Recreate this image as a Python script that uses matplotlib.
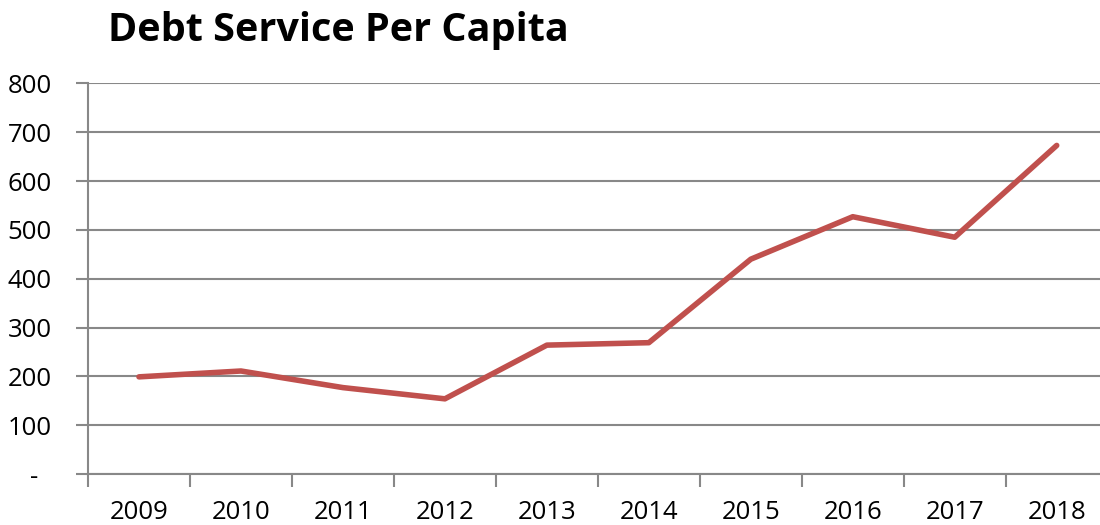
import numpy as np
import matplotlib.pyplot as plt

years = ["2009", "2010", "2011", "2012", "2013", "2014", "2015", "2016", "2017", "2018"]
debt_service = [199, 211, 177, 154, 264, 269, 440, 527, 485, 673]
y_ticks = [0, 100, 200, 300, 400, 500, 600, 700, 800]
y_tick_labels = ["-  ", "100", "200", "300", "400", "500", "600", "700", "800"]

plt.rcParams['font.family'] = ['Open Sans', 'DejaVu Sans']

fig = plt.figure(figsize=(11, 5.25), dpi=100)
ax = fig.add_axes([0.08, 0.0971, 0.927, 0.744])

x = np.arange(len(years))
ax.plot(x, debt_service, color="#C0504D", linewidth=4, solid_capstyle="round", zorder=3)

ax.set_xlim(-0.5, len(years) - 0.5)
ax.set_ylim(0, 800)

# gridlines
ax.set_yticks(y_ticks)
ax.set_yticklabels(y_tick_labels, fontsize=18.5)
ax.yaxis.grid(True, color="#888888", linewidth=1.5)
ax.set_axisbelow(True)
ax.tick_params(axis="y", length=9, width=1.5, color="#888888", pad=17)

# category labels centered, tick marks at boundaries
ax.set_xticks(x)
ax.set_xticklabels(years, fontsize=18.5)
ax.tick_params(axis="x", which="major", length=0, pad=19)
ax.set_xticks(np.arange(-0.5, len(years), 1.0), minor=True)
ax.tick_params(axis="x", which="minor", length=9, width=1.5, color="#888888")

for side in ["top", "right"]:
    ax.spines[side].set_visible(False)
for side in ["left", "bottom"]:
    ax.spines[side].set_color("#888888")
    ax.spines[side].set_linewidth(1.5)

fig.text(108 / 1100, 1 - 30 / 525, "Debt Service Per Capita", fontsize=28.5,
         fontweight="bold", ha="left", va="center")

fig.savefig("out.png", dpi=100)
